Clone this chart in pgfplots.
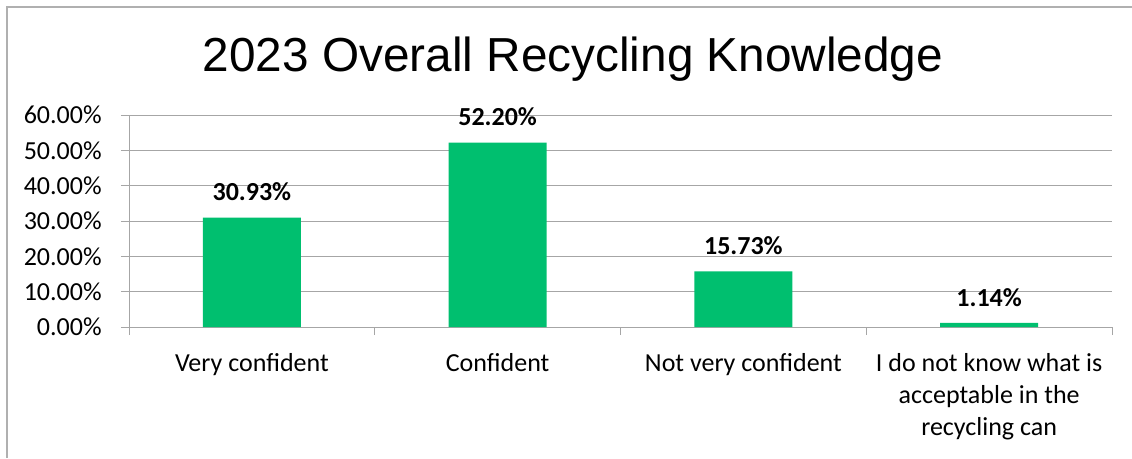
\documentclass[border=0pt]{standalone}
\usepackage{pgfplots}
\pgfplotsset{compat=1.18}
\usepackage{fontspec}
\setmainfont{Carlito}
\newfontfamily\titlefont{Liberation Sans}
\definecolor{bargreen}{RGB}{0,191,111}
\definecolor{gridgray}{RGB}{166,166,166}
\definecolor{framegray}{RGB}{176,176,176}
\begin{document}
\begin{tikzpicture}
\path[use as bounding box] (0,0) rectangle (849pt,343.5pt);
\draw[framegray, line width=1.5pt] (5.25pt,0) -- (5.25pt,338.6pt) -- (849pt,338.6pt);
\node[anchor=base, font=\titlefont\fontsize{35.8}{40}\selectfont] at (429.75pt,289.5pt) {2023 Overall Recycling Knowledge};
\begin{axis}[
  at={(96.75pt,98.25pt)}, anchor=south west,
  scale only axis, width=737.25pt, height=159pt,
  xmin=-0.5, xmax=3.5, ymin=0, ymax=60,
  axis x line*=bottom, axis y line*=left,
  axis line style={gridgray, line width=0.75pt},
  ymajorgrids, grid style={gridgray, line width=0.75pt},
  ytick={0,10,...,60},
  yticklabel={\pgfmathprintnumber[fixed,fixed zerofill,precision=2]{\tick}\%},
  /pgf/number format/assume math mode=true,
  yticklabel style={font=\fontsize{19.5}{23}\selectfont, black, xshift=-11pt},
  xtick={0,1,2,3},
  xticklabels={Very confident, Confident, Not very confident, {I do not know what is\\acceptable in the\\recycling can}},
  xticklabel style={font=\fontsize{19.5}{24.3}\selectfont, align=center, black, yshift=-10pt},
  minor xtick={-0.5,0.5,1.5,2.5,3.5},
  tick align=outside, major tick length=6pt, minor tick length=6pt,
  tick style={gridgray, line width=0.75pt},
  major x tick style={draw=none},
  clip=false,
  nodes near coords={\pgfmathprintnumber[fixed,fixed zerofill,precision=2]{\pgfplotspointmeta}\%},
  every node near coord/.append style={font=\bfseries\fontsize{19.5}{23}\selectfont, black, yshift=9pt},
]
\addplot[ybar, bar width=73.5pt, fill=bargreen, draw=none] coordinates {(0,30.93) (1,52.20) (2,15.73) (3,1.14)};
\end{axis}
\end{tikzpicture}
\end{document}
